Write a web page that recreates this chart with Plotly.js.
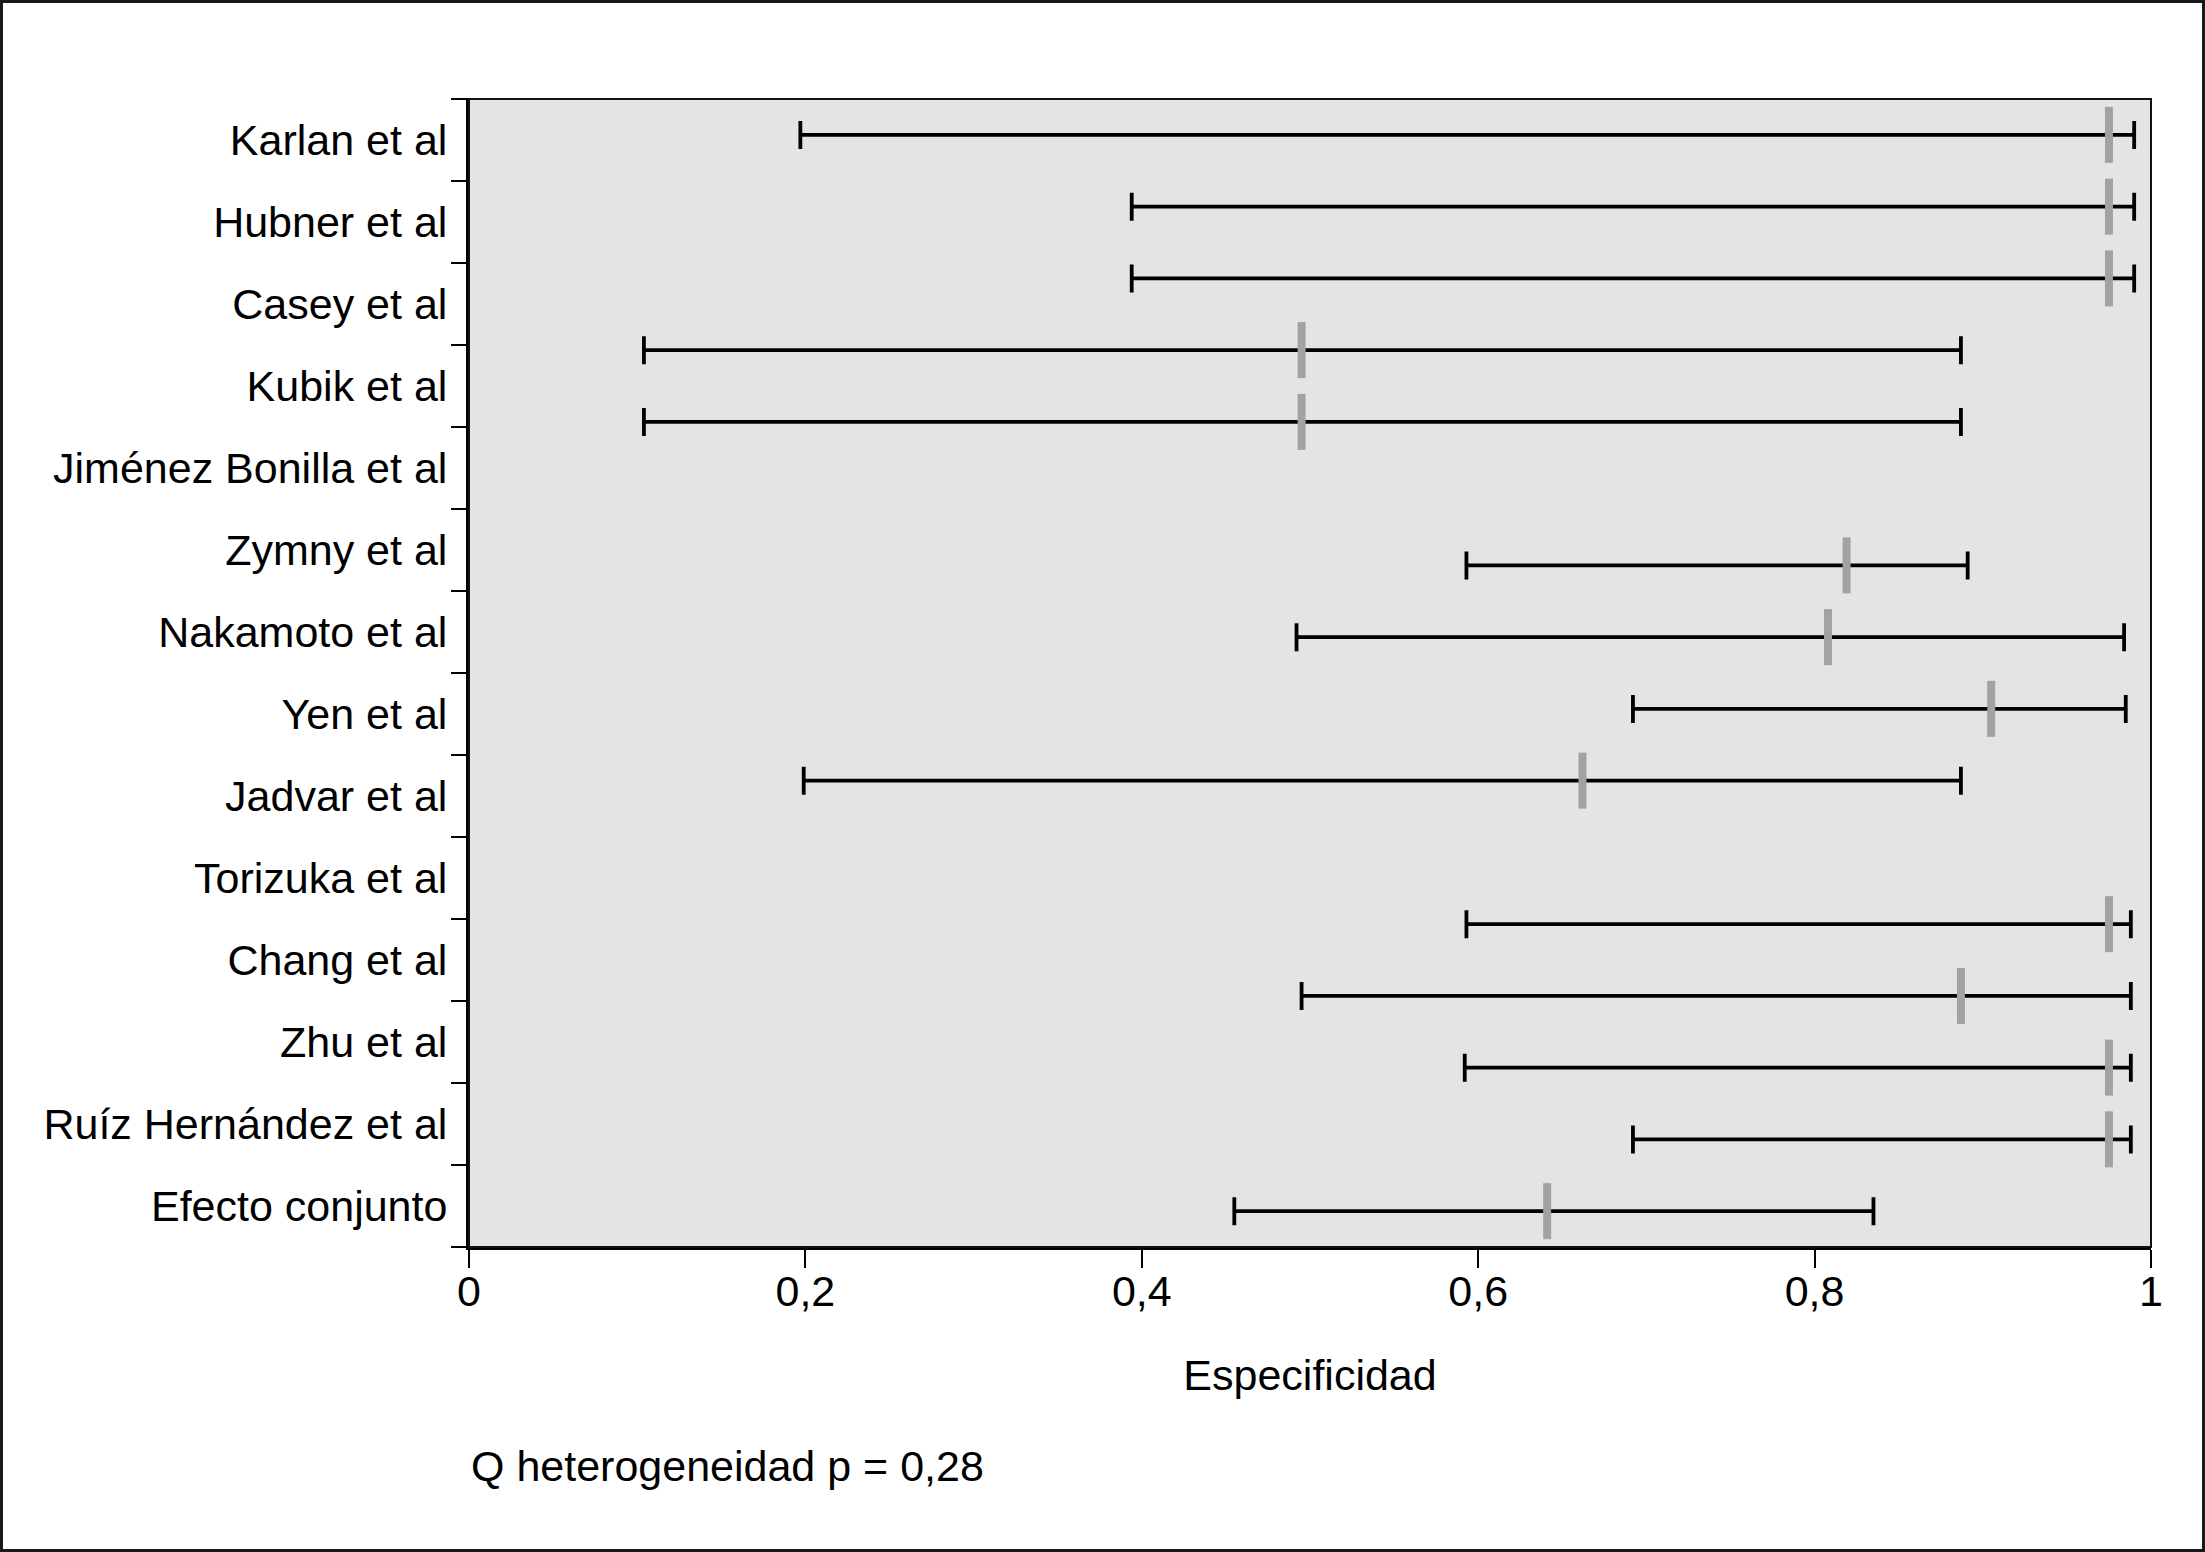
<!DOCTYPE html>
<html><head><meta charset="utf-8">
<script src="https://cdn.plot.ly/plotly-3.0.1.min.js"></script>
<style>
html,body{margin:0;padding:0;background:#fff;}
#chart{width:2205px;height:1552px;box-sizing:border-box;border:3px solid #1a1a1a;}
</style></head><body><div id="chart"></div>
<script>
// Study labels (14 bands on the axis)
const studies = ['Karlan et al','Hubner et al','Casey et al','Kubik et al','Jiménez Bonilla et al',
  'Zymny et al','Nakamoto et al','Yen et al','Jadvar et al','Torizuka et al','Chang et al',
  'Zhu et al','Ruíz Hernández et al','Efecto conjunto'];
// Row slot (of 16) in which each interval is drawn in the original figure
const slots = [0,1,2,3,4,6,7,8,9,11,12,13,14,15];
const nSlots = 16;
// Specificity estimates and 95% CI limits
const lower    = [0.197,0.394,0.394,0.104,0.104,0.593,0.492,0.692,0.199,0.593,0.495,0.592,0.692,0.455];
const estimate = [0.975,0.975,0.975,0.495,0.495,0.819,0.808,0.905,0.662,0.975,0.887,0.975,0.975,0.641];
const upper    = [0.990,0.990,0.990,0.887,0.887,0.891,0.984,0.985,0.887,0.988,0.988,0.988,0.988,0.835];
const xTickVals = [0,0.2,0.4,0.6,0.8,1];
const xTickText = ['0','0,2','0,4','0,6','0,8','1'];
const note = 'Q heterogeneidad p = 0,28';
const xTitle = 'Especificidad';

const FONT = 'Liberation Sans, Arial, Helvetica, sans-serif';
const idx = studies.map((_, i) => i);
const bounds = studies.map((_, i) => i - 0.5).concat([studies.length - 0.5]);

const traces = [
  {
    type: 'scatter', mode: 'markers',
    x: estimate, y: slots, xaxis: 'x', yaxis: 'y',
    marker: {symbol: 'line-ns', size: 40, color: '#a2a2a2', line: {width: 8, color: '#a2a2a2'}},
    error_x: {type: 'data', symmetric: false,
      array: upper.map((u, i) => u - estimate[i]),
      arrayminus: lower.map((l, i) => estimate[i] - l),
      color: '#000', thickness: 3.8, width: 14},
    hoverinfo: 'skip', showlegend: false, cliponaxis: false
  },
  {type: 'scatter', mode: 'markers', x: [-1], y: [0], yaxis: 'y2',
   marker: {opacity: 0}, hoverinfo: 'skip', showlegend: false},
  {type: 'scatter', mode: 'markers', x: [-1], y: [0], yaxis: 'y3',
   marker: {opacity: 0}, hoverinfo: 'skip', showlegend: false}
];

const layout = {
  width: 2199, height: 1546,
  margin: {l: 466, r: 51, t: 96, b: 302, pad: 0},
  paper_bgcolor: '#ffffff', plot_bgcolor: '#e4e4e4',
  font: {family: FONT, size: 43, color: '#000'},
  showlegend: false,
  xaxis: {
    range: [0, 1], tickmode: 'array', tickvals: xTickVals, ticktext: xTickText,
    ticks: 'outside', ticklen: 18, tickwidth: 2, tickcolor: '#000',
    ticklabelstandoff: -14,
    showline: true, linewidth: 3, linecolor: '#000',
    showgrid: false, zeroline: false, fixedrange: true,
    tickfont: {family: FONT, size: 43, color: '#000'},
    title: {text: xTitle, font: {family: FONT, size: 43, color: '#000'}, standoff: 47}
  },
  yaxis: {
    range: [nSlots - 0.5, -0.5], showticklabels: false, ticks: '',
    showline: true, linewidth: 3, linecolor: '#000',
    showgrid: false, zeroline: false, fixedrange: true
  },
  yaxis2: {
    overlaying: 'y', anchor: 'x', side: 'left',
    range: [studies.length - 0.5, -0.5], tickmode: 'array', tickvals: idx, ticktext: studies,
    ticks: 'outside', ticklen: 12, tickcolor: 'rgba(0,0,0,0)',
    showline: false, showgrid: false, zeroline: false, fixedrange: true,
    tickfont: {family: FONT, size: 43, color: '#000'}
  },
  yaxis3: {
    overlaying: 'y', anchor: 'x', side: 'left',
    range: [studies.length - 0.5, -0.5], tickmode: 'array', tickvals: bounds,
    ticks: 'outside', ticklen: 17, tickwidth: 2.5, tickcolor: '#000',
    showticklabels: false, showline: false, showgrid: false, zeroline: false, fixedrange: true
  },
  shapes: [{type: 'rect', xref: 'paper', yref: 'paper', x0: 0, x1: 1, y0: 0, y1: 1,
            line: {color: '#111', width: 2}, fillcolor: 'rgba(0,0,0,0)', layer: 'above'}],
  annotations: [{text: note, xref: 'paper', yref: 'paper', x: 0, y: -0.191,
                 xanchor: 'left', yanchor: 'middle', showarrow: false,
                 font: {family: FONT, size: 43, color: '#000'}}]
};

Plotly.newPlot('chart', traces, layout, {staticPlot: true, displayModeBar: false});
</script></body></html>
